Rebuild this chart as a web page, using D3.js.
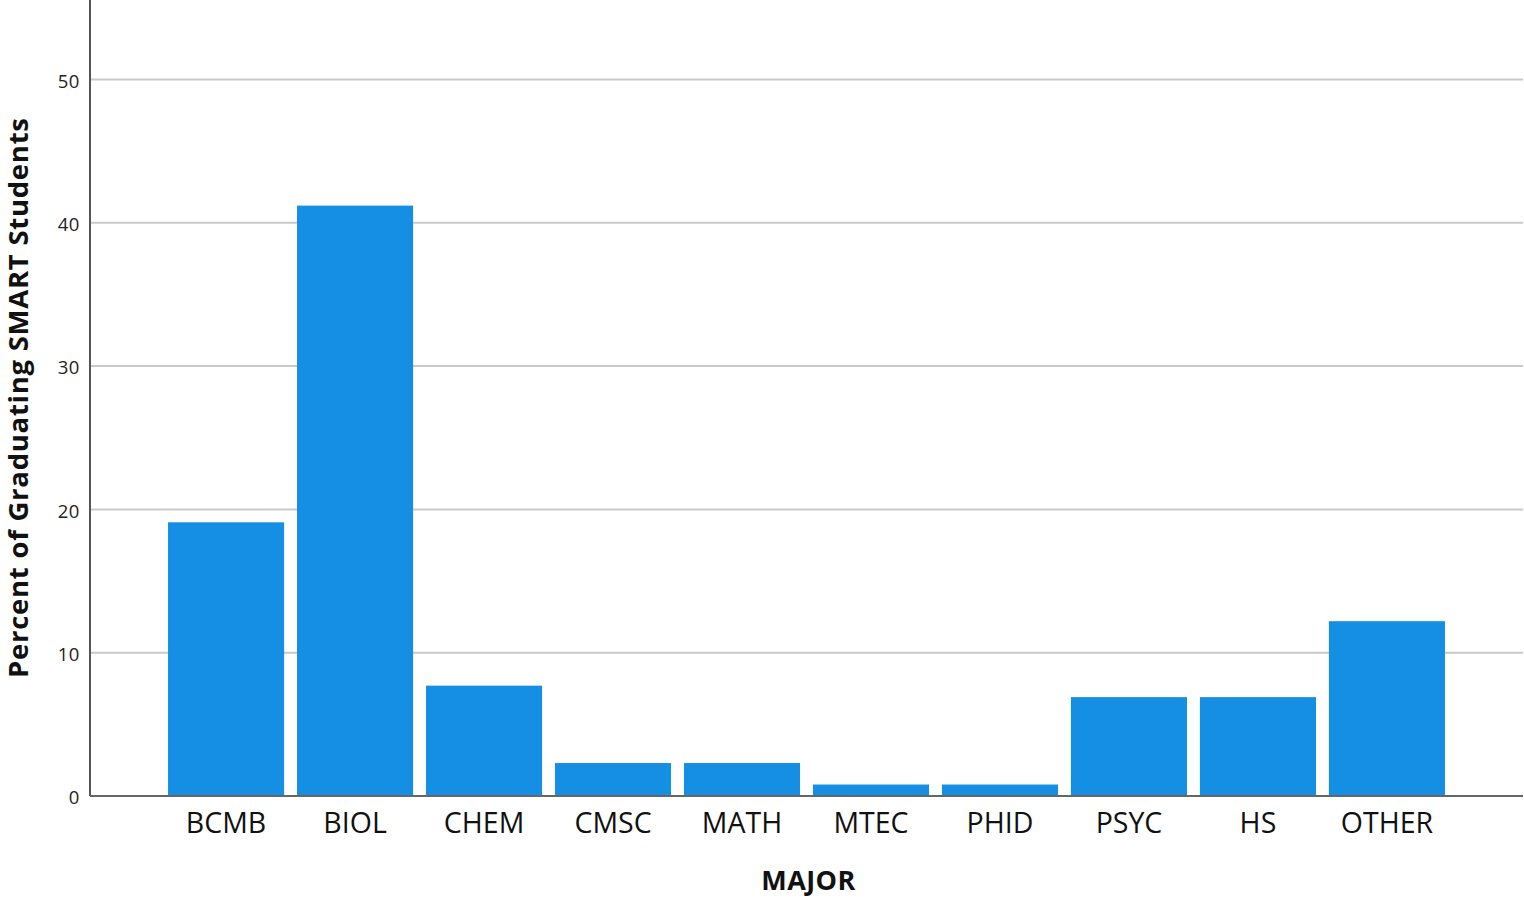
<!DOCTYPE html>
<html><head><meta charset="utf-8">
<script src="https://cdn.jsdelivr.net/npm/d3@7"></script>
<style>
html,body{margin:0;padding:0;background:#fff;}
svg{display:block;}
</style></head>
<body>
<svg id="chart" width="1524" height="898"></svg>
<script>
const categories = ["BCMB","BIOL","CHEM","CMSC","MATH","MTEC","PHID","PSYC","HS","OTHER"];
const values = [19.1, 41.2, 7.7, 2.3, 2.3, 0.8, 0.8, 6.9, 6.9, 12.2];
const yTicks = [0, 10, 20, 30, 40, 50];
const yTitle = "Percent of Graduating SMART Students";
const xTitle = "MAJOR";

(function () {
const svg = d3.select("#chart");
const mLeft = 90, mRight = 1523, mTop = 0, mBottom = 796;

const x = d3.scaleBand().domain(categories).range([mLeft, mRight]).paddingInner(0.1).paddingOuter(0.605);
const y = d3.scaleLinear().domain([0, 55.55]).range([mBottom, mTop]);

// gridlines
svg.append("g").selectAll("line").data(yTicks.filter(d => d > 0)).join("line")
  .attr("x1", mLeft).attr("x2", mRight)
  .attr("y1", d => y(d)).attr("y2", d => y(d))
  .attr("stroke", "#c9c9c9").attr("stroke-width", 2);

// bars
svg.append("g").selectAll("rect").data(categories).join("rect")
  .attr("x", d => x(d)).attr("width", x.bandwidth())
  .attr("y", (d, i) => y(values[i]))
  .attr("height", (d, i) => y(0) - y(values[i]))
  .attr("fill", "#148fe4");

// y axis
const yAxis = svg.append("g").attr("transform", `translate(${mLeft},0)`)
  .call(d3.axisLeft(y).tickValues(yTicks).tickSize(0).tickPadding(10));
yAxis.select(".domain").remove();
yAxis.selectAll("text").attr("font-family", "'Open Sans', sans-serif").attr("font-size", 18.5)
  .attr("letter-spacing", 0.6).attr("dy", "0.42em").attr("fill", "#222");
svg.append("line").attr("x1", mLeft).attr("x2", mLeft).attr("y1", 0).attr("y2", mBottom)
  .attr("stroke", "#555").attr("stroke-width", 2);

// x axis
const xAxis = svg.append("g").attr("transform", `translate(0,${mBottom})`)
  .call(d3.axisBottom(x).tickSize(0).tickPadding(17));
xAxis.select(".domain").remove();
xAxis.selectAll("text").attr("font-family", "'Open Sans', sans-serif").attr("font-size", 28.5)
  .attr("fill", "#111");
svg.append("line").attr("x1", mLeft).attr("x2", mRight).attr("y1", mBottom).attr("y2", mBottom)
  .attr("stroke", "#666").attr("stroke-width", 2);

// titles
svg.append("text").attr("x", 808.5).attr("y", 890)
  .attr("text-anchor", "middle").attr("font-family", "'Open Sans', sans-serif")
  .attr("font-weight", "bold").attr("font-size", 27).attr("letter-spacing", 0.4)
  .attr("fill", "#111").text(xTitle);

svg.append("text").attr("transform", "translate(27.5,398) rotate(-90)")
  .attr("text-anchor", "middle").attr("font-family", "'Open Sans', sans-serif")
  .attr("font-weight", "bold").attr("font-size", 27.5)
  .attr("textLength", 560).attr("lengthAdjust", "spacing")
  .attr("fill", "#111").text(yTitle);
})();
</script>
</body></html>
